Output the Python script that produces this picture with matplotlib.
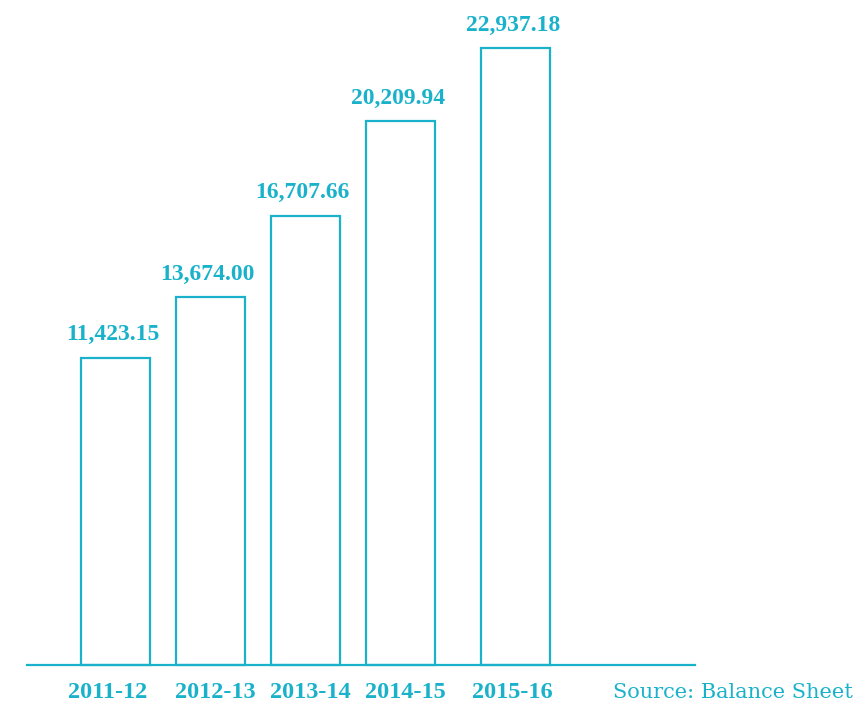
import matplotlib
matplotlib.use("Agg")
import matplotlib.pyplot as plt

years = ["2011-12", "2012-13", "2013-14", "2014-15", "2015-16"]
values = [11423.15, 13674.00, 16707.66, 20209.94, 22937.18]
labels = ["11,423.15", "13,674.00", "16,707.66", "20,209.94", "22,937.18"]

# layout
positions = [0, 1, 2, 3, 4.21]
tick_pos = [-0.08, 1.05, 2.05, 3.05, 4.18]
color = "#1ab2cb"

fig = plt.figure(figsize=(8.67, 7.09), dpi=100)
ax = fig.add_axes([27/867, (709-665)/709, (695-27)/867, 617/709])
bars = ax.bar(positions, values, width=0.726, facecolor="white", edgecolor=color, linewidth=1.6)
for b in bars:
    b.set_clip_on(False)
ax.set_xlim(-0.932, 6.1)
ax.set_ylim(0, max(values))
for s in ["top", "right", "left"]:
    ax.spines[s].set_visible(False)
ax.spines["bottom"].set_color(color)
ax.spines["bottom"].set_linewidth(1.6)
ax.set_yticks([])
ax.set_xticks(tick_pos)
ax.set_xticklabels(years, fontfamily="Liberation Serif", fontweight="bold", fontsize=17.5, color=color)
ax.tick_params(axis="x", length=0, pad=12)
for x, v, lab in zip(positions, values, labels):
    ax.annotate(lab, (x, v), xytext=(-2, 9), textcoords="offset points", ha="center", va="bottom",
                fontfamily="Liberation Serif", fontweight="bold", fontsize=17, color=color,
                annotation_clip=False)
fig.text(853/867, 1 - 693/709, "Source: Balance Sheet", ha="right", va="center",
         fontfamily="DejaVu Serif", fontsize=15, color=color)
fig.savefig("out.png", dpi=100)
